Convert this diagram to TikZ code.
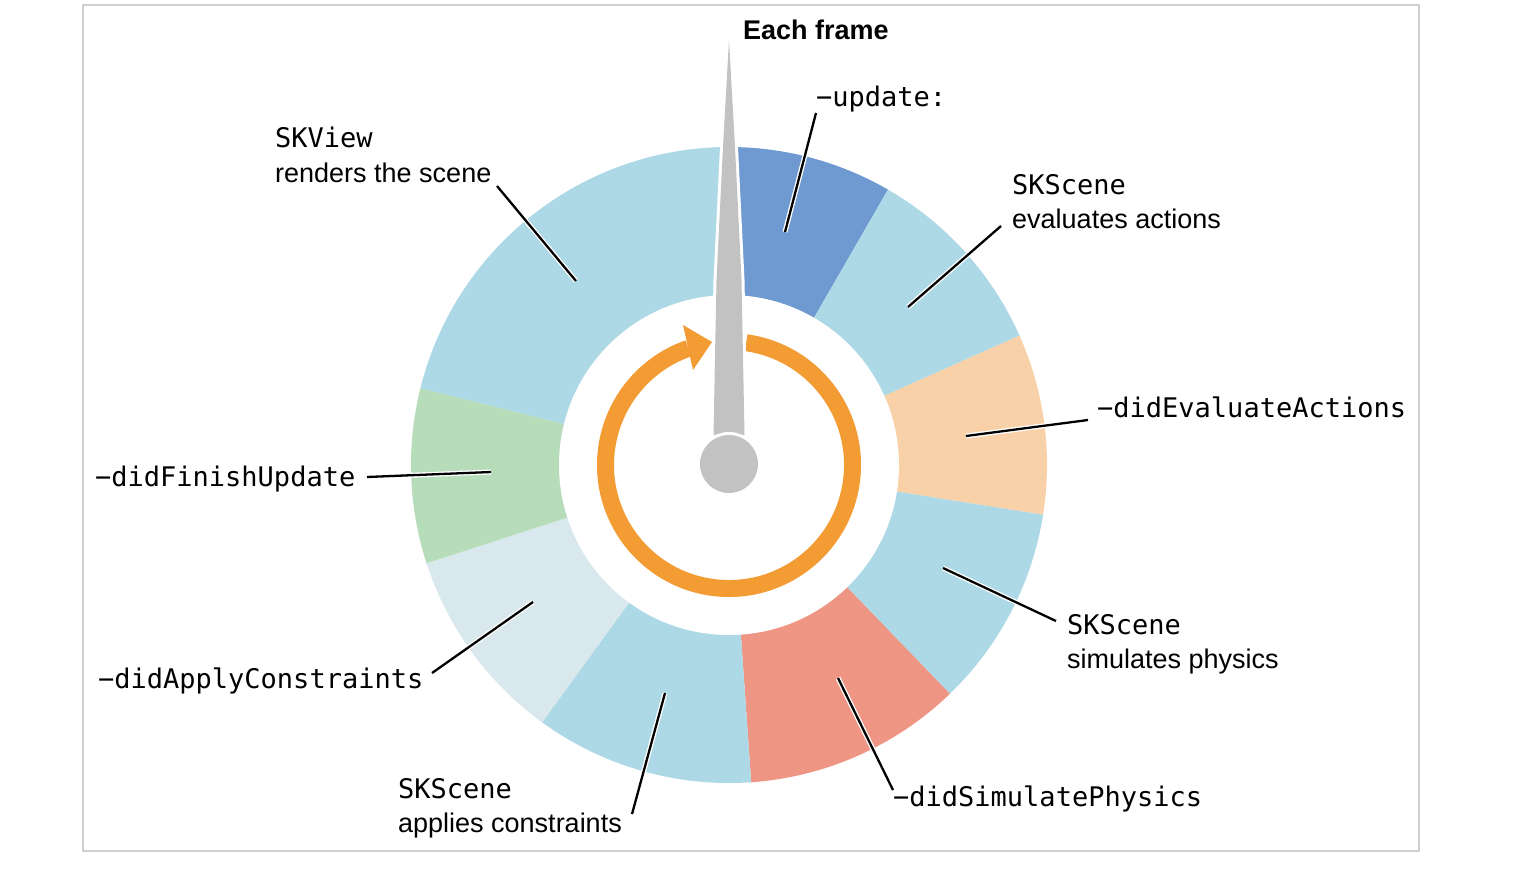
\documentclass[tikz,border=0pt]{standalone}
\usepackage{fontspec}
\setmainfont{Liberation Sans}
\newfontfamily\labmono{DejaVu Sans Mono}
\definecolor{segblue}{HTML}{ADD8E6}
\definecolor{segdark}{HTML}{6E9AD1}
\definecolor{segpeach}{HTML}{F8D1A9}
\definecolor{segsalmon}{HTML}{EE9683}
\definecolor{segpale}{HTML}{D8E8EC}
\definecolor{seggreen}{HTML}{B6DCBA}
\definecolor{ringorange}{HTML}{F39C34}
\definecolor{needlegray}{HTML}{C2C2C2}
\definecolor{framegray}{HTML}{CFCFCF}
\newcommand\wheelseg[3]{\fill[#3] (C) -- ++(#1:318) arc[start angle=#1, end angle=#2, radius=318] -- cycle;}
\begin{document}
\begin{tikzpicture}[x=1pt,y=1pt,
  lab/.style={inner sep=0pt, text=black, font=\fontsize{27}{34.5}\selectfont},
  monolab/.style={inner sep=0pt, text=black, font=\labmono\fontsize{27}{34.5}\selectfont, anchor=base west},
  twolab/.style={lab, align=left, anchor=north west},
  leader/.style={line width=2.3, black, preaction={draw=white, line width=5}},
  ]
\useasboundingbox (0,0) rectangle (1538,-868);
\draw[framegray, line width=1.2] (83,-5) rectangle (1419,-851);
\coordinate (C) at (729,-465);
% wheel
\wheelseg{90}{60}{segdark}
\wheelseg{60}{24}{segblue}
\wheelseg{24}{-9}{segpeach}
\wheelseg{-9}{-46}{segblue}
\wheelseg{-46}{-86}{segsalmon}
\wheelseg{-86}{-126}{segblue}
\wheelseg{-126}{-162}{segpale}
\wheelseg{-162}{-194}{seggreen}
\wheelseg{166}{90}{segblue}
\fill[white] (C) circle[radius=170];
% orange cycle arrow
\draw[ringorange, line width=17] (C) ++(82:123.5) arc[start angle=82, end angle=-250.8, radius=123.5];
\fill[ringorange] (683,-325) -- (712,-342) -- (693,-370) -- cycle;
% needle
\fill[needlegray, preaction={draw=white, line width=6}] (729,-40) -- (735,-147) -- (741.5,-280) -- (744.5,-435) -- (713.5,-435) -- (716.5,-280) -- (723,-147) -- cycle;
\fill[needlegray, preaction={draw=white, line width=6}] (729,-464) circle[radius=29];
% title
\node[lab, font=\bfseries\fontsize{27}{32}\selectfont, anchor=base west] (title) at (743,-39) {Each frame};
% labels
\node[monolab] (upd) at (816,-106) {−update:};
\node[twolab] (evA) at (1012,-174) {{\labmono SKScene}\\evaluates actions};
\node[monolab] (dEA) at (1097,-417) {−didEvaluateActions};
\node[twolab] (sim) at (1067,-614) {{\labmono SKScene}\\simulates physics};
\node[monolab] (dSP) at (893,-806) {−didSimulatePhysics};
\node[twolab] (app) at (398,-778) {{\labmono SKScene}\\applies constraints};
\node[monolab] (dAC) at (98,-688) {−didApplyConstraints};
\node[monolab] (dFU) at (95,-486) {−didFinishUpdate};
\node[twolab] (view) at (275,-127) {{\labmono SKView}\\renders the scene};
% leader ends
\coordinate (updA) at (816,-113); \coordinate (updB) at (785,-232);
\coordinate (evAA) at (1001,-226); \coordinate (evAB) at (908,-307);
\coordinate (dEAA) at (1088,-420); \coordinate (dEAB) at (966,-436);
\coordinate (simA) at (1056,-621); \coordinate (simB) at (943,-568);
\coordinate (dSPA) at (893,-790); \coordinate (dSPB) at (838,-678);
\coordinate (appA) at (632,-814); \coordinate (appB) at (665,-693);
\coordinate (dACA) at (432,-673); \coordinate (dACB) at (533,-602);
\coordinate (dFUA) at (367,-477); \coordinate (dFUB) at (491,-472);
\coordinate (viewA) at (497,-186); \coordinate (viewB) at (576,-281);
\draw[leader] (updA) -- (updB);
\draw[leader] (evAA) -- (evAB);
\draw[leader] (dEAA) -- (dEAB);
\draw[leader] (simA) -- (simB);
\draw[leader] (dSPA) -- (dSPB);
\draw[leader] (appA) -- (appB);
\draw[leader] (dACA) -- (dACB);
\draw[leader] (dFUA) -- (dFUB);
\draw[leader] (viewA) -- (viewB);
\end{tikzpicture}
\end{document}
